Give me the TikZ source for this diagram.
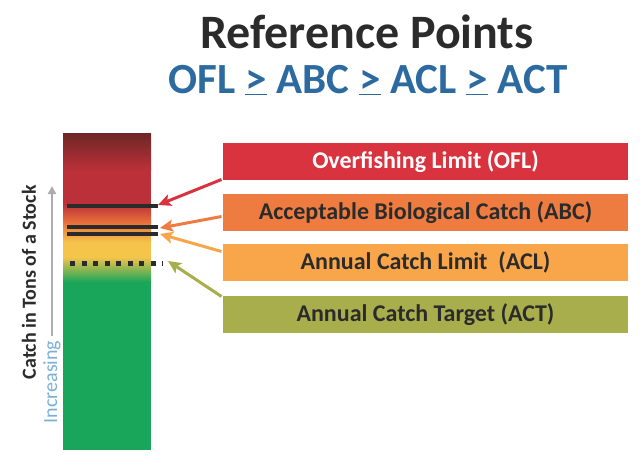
\documentclass[tikz,border=0pt]{standalone}
\usepackage{fontspec}
\setmainfont{Carlito}
\usetikzlibrary{arrows,arrows.meta,positioning}
\definecolor{textdark}{HTML}{2B2B2B}
\definecolor{titleblue}{HTML}{2C6AA0}
\definecolor{oflred}{HTML}{D9333F}
\definecolor{abcorange}{HTML}{EE7B3F}
\definecolor{aclorange}{HTML}{F9A54A}
\definecolor{actolive}{HTML}{A8AE4C}
\definecolor{bardark}{HTML}{6E2626}
\definecolor{barred}{HTML}{BC3139}
\definecolor{barorange}{HTML}{E8703A}
\definecolor{baryellow}{HTML}{F5C44B}
\definecolor{bargreen}{HTML}{1AA65A}
\definecolor{risingblue}{HTML}{7AAFD6}

\begin{document}
\begin{tikzpicture}[x=1pt,y=-1pt,>={Stealth[length=13pt,width=12pt,inset=3pt]},line width=3pt,
  limitbox/.style={rectangle,minimum width=405pt,minimum height=37pt,
    inner sep=0pt,font=\bfseries\fontsize{24}{24}\selectfont,text=textdark},
  markline/.style={-,line width=3.5pt,textdark}]%,line cap=round]
\useasboundingbox (0,0) rectangle (642,472);
\node[anchor=base,font=\bfseries\fontsize{48}{48}\selectfont,text=textdark] (title) at (367,48) {Reference Points};
\node[anchor=base,font=\bfseries\fontsize{43}{43}\selectfont,text=titleblue] (order) at (368,93)
  {OFL \underline{>} ABC \underline{>} ACL \underline{>} ACT};

% catch bar
\fill[bargreen] (63,281.5) rectangle (151,450);
\shade[top color=baryellow,bottom color=bargreen] (63,257) rectangle (151,282);
\fill[baryellow] (63,242) rectangle (151,257.5);
\shade[top color=barorange,bottom color=baryellow] (63,222) rectangle (151,242.5);
\shade[top color=barred,bottom color=barorange] (63,204) rectangle (151,222.5);
\fill[barred] (63,170) rectangle (151,204.5);
\shade[top color=bardark,bottom color=barred] (63,133) rectangle (151,170.5);

\coordinate (oflmark) at (158,205);
\coordinate (abcmark) at (160,228);
\coordinate (aclmark) at (160,234);
\coordinate (actmark) at (168,261);
\draw[markline] (67,206) -- (158,206);
\draw[markline] (67,227) -- (158,227);
\draw[markline] (67,234) -- (158,234);
\draw[markline,dash pattern=on 5pt off 6.5pt,line width=5pt] (70,263) -- (163,263);

\node[rotate=90,anchor=west,font=\bfseries\fontsize{20}{20}\selectfont,text=textdark]
  (catch) at (29,384) {Catch in Tons of a Stock};
\node[rotate=90,anchor=west,font=\fontsize{20}{20}\selectfont,text=risingblue]
  (rising) at (52,428) {Increasing};
\coordinate (risetop) at (52,186);
\draw[-{Triangle[length=8pt,width=8pt]},gray!65,line width=2pt] (rising.east) -- (risetop);

\node[limitbox,fill=oflred,text=white] (ofl) at (425.5,161.5) {Overfishing Limit (OFL)};
\node[limitbox,fill=abcorange,below=11pt of ofl] (abc) {Acceptable Biological Catch (ABC)};
\node[limitbox,fill=aclorange,below=10pt of abc] (acl) {Annual Catch Limit\ \ (ACL)};
\node[limitbox,fill=actolive,below=12pt of acl] (act) {Annual Catch Target (ACT)};

\begin{scope}[->]
\draw[oflred] ([yshift=2pt]ofl.south west) -- (oflmark);
\draw[abcorange] ([yshift=-4pt]abc.west) -- (abcmark);
\draw[aclorange] ([yshift=11pt]acl.west) -- (aclmark);
\draw[actolive] ([yshift=-2pt]act.north west) -- (actmark);
\end{scope}
\end{tikzpicture}
\end{document}
